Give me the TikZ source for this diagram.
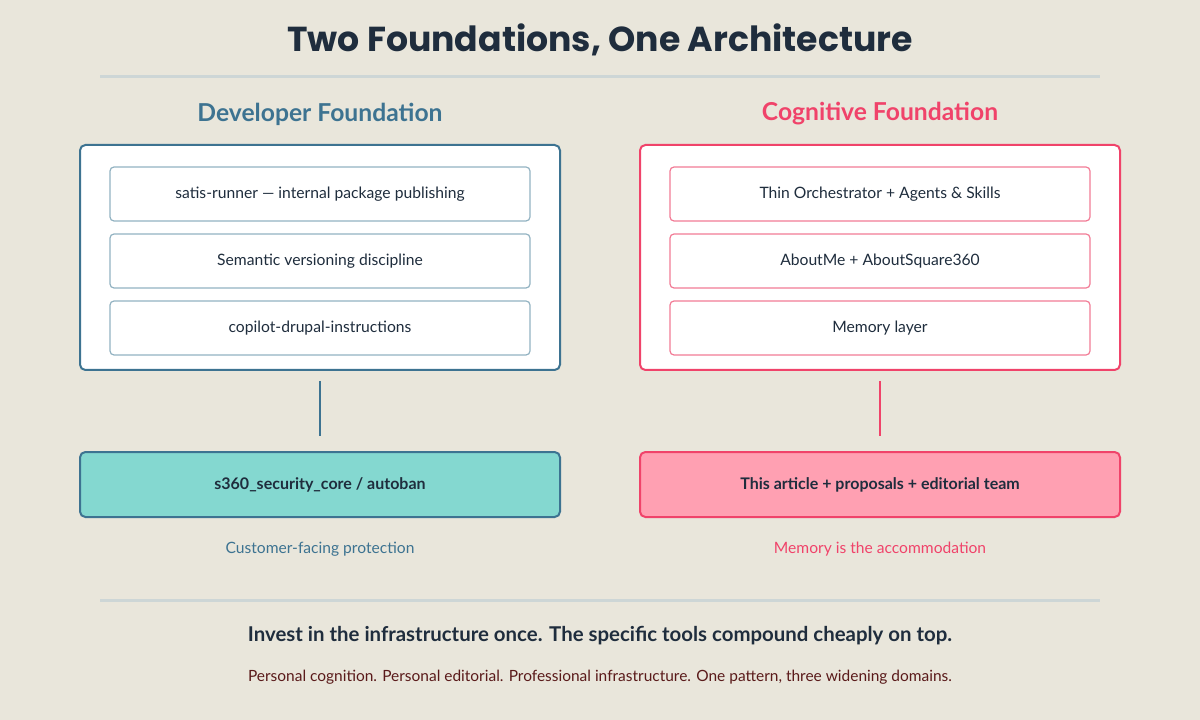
\documentclass[tikz,border=0pt]{standalone}
\usepackage{fontspec}
\setmainfont{Lato}
\newfontfamily\titlefont{Poppins}
\definecolor{bg}{HTML}{E9E6DB}
\definecolor{devblue}{HTML}{3D7391}
\definecolor{devlite}{HTML}{93B3C2}
\definecolor{cogred}{HTML}{F0436A}
\definecolor{coglite}{HTML}{F27C96}
\definecolor{tealfill}{HTML}{84D8D0}
\definecolor{pinkfill}{HTML}{FFA0B2}
\definecolor{ink}{HTML}{1F2D3D}
\definecolor{rulegrey}{HTML}{CDD6D6}
\definecolor{maroon}{HTML}{5A1A1A}
\tikzset{
  outerbox/.style={draw, line width=1.5pt, rounded corners=4pt, fill=white, minimum width=360pt, minimum height=168.75pt},
  innerbox/.style={draw, line width=0.9pt, rounded corners=3pt, fill=white, minimum width=315pt, minimum height=40.5pt, text=ink, font=\fontsize{11.75}{14}\selectfont},
  basebox/.style={draw, line width=1.5pt, rounded corners=4pt, minimum width=360pt, minimum height=48.75pt, text=ink, font=\bfseries\fontsize{12}{14}\selectfont},
  heading/.style={font=\bfseries\fontsize{18.5}{22}\selectfont},
  caption/.style={font=\fontsize{11.7}{14}\selectfont},
}
\begin{document}
\begin{tikzpicture}[x=0.75pt,y=0.75pt,yscale=-1,xscale=1]
\useasboundingbox[fill=bg] (0,0) rectangle (1200,720);

% title and rules
\node (title) at (600,40) [text=ink, font=\titlefont\bfseries\fontsize{26}{30}\selectfont] {Two Foundations, One Architecture};
\draw [rulegrey, line width=2.25pt] (100,77) -- (1100,77);
\draw [rulegrey, line width=2.25pt] (100,600) -- (1100,600);

% developer foundation
\node (devhead) at (320,114) [heading, text=devblue] {Developer Foundation};
\node (devbox) at (320,257.5) [outerbox, draw=devblue] {};
\node (dev1) at (320,194) [innerbox, draw=devlite] {satis-runner — internal package publishing};
\node (dev2) at (320,261) [innerbox, draw=devlite] {Semantic versioning discipline};
\node (dev3) at (320,328) [innerbox, draw=devlite] {copilot-drupal-instructions};
\node (devbase) at (320,484.5) [basebox, draw=devblue, fill=tealfill] {s360\_security\_core / autoban};
\node (devcap) at (320,549) [caption, text=devblue] {Customer-facing protection};
\draw [devblue, line width=1.5pt, shorten <=7.5pt, shorten >=11.25pt] (devbox.south) -- (devbase.north);

% cognitive foundation
\node (coghead) at (880,114) [heading, text=cogred] {Cognitive Foundation};
\node (cogbox) at (880,257.5) [outerbox, draw=cogred] {};
\node (cog1) at (880,194) [innerbox, draw=coglite] {Thin Orchestrator + Agents \& Skills};
\node (cog2) at (880,261) [innerbox, draw=coglite] {AboutMe + AboutSquare360};
\node (cog3) at (880,328) [innerbox, draw=coglite] {Memory layer};
\node (cogbase) at (880,484.5) [basebox, draw=cogred, fill=pinkfill] {This article + proposals + editorial team};
\node (cogcap) at (880,549) [caption, text=cogred] {Memory is the accommodation};
\draw [cogred, line width=1.5pt, shorten <=7.5pt, shorten >=11.25pt] (cogbox.south) -- (cogbase.north);

% closing lines
\node (motto) at (600,636) [text=ink, font=\bfseries\fontsize{15.3}{18}\selectfont] {Invest in the infrastructure once. The specific tools compound cheaply on top.};
\node (coda) at (600,677) [text=maroon, font=\fontsize{11.6}{14}\selectfont] {Personal cognition. Personal editorial. Professional infrastructure. One pattern, three widening domains.};
\end{tikzpicture}
\end{document}
